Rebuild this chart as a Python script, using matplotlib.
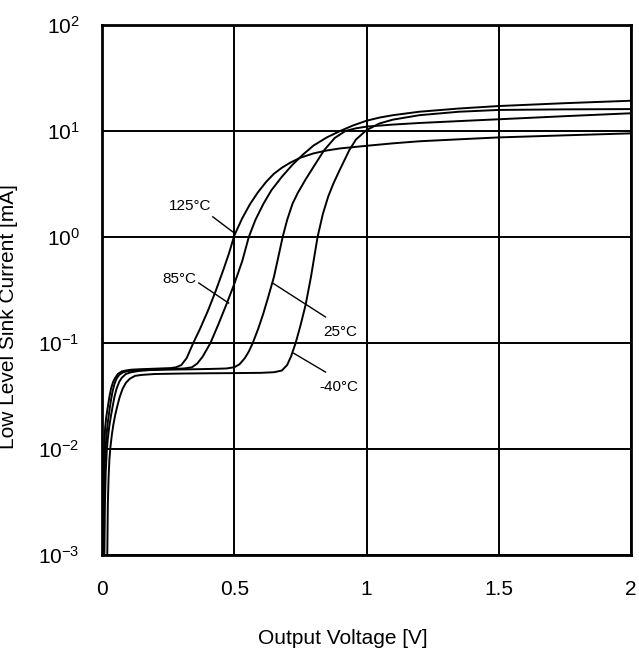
import numpy as np
import matplotlib
matplotlib.use('Agg')
import matplotlib.pyplot as plt
from matplotlib.ticker import FixedLocator, FuncFormatter, NullLocator

plt.rcParams['font.family'] = ['Liberation Sans', 'DejaVu Sans']
plt.rcParams['mathtext.fontset'] = 'custom'
plt.rcParams['mathtext.rm'] = 'Liberation Sans'

# output voltage [V] / sink current [mA]
v_125 = [0.003, 0.005, 0.007, 0.009, 0.012, 0.016, 0.022, 0.028, 0.034, 0.042, 0.05, 0.06, 0.075, 0.09,
         0.11, 0.14, 0.18, 0.22, 0.26, 0.28, 0.30, 0.32, 0.345, 0.37, 0.40, 0.43, 0.46, 0.48, 0.50, 0.53,
         0.56, 0.59, 0.62, 0.65, 0.68, 0.71, 0.75, 0.80, 0.85, 0.90, 1.0, 1.1, 1.2, 1.35, 1.5, 1.75, 2.0]
i_125 = [0.001, 0.0035, 0.007, 0.0115, 0.016, 0.020, 0.025, 0.031, 0.037, 0.043, 0.047, 0.051, 0.054, 0.055,
         0.056, 0.0565, 0.057, 0.0575, 0.058, 0.059, 0.062, 0.072, 0.10, 0.135, 0.20, 0.31, 0.50, 0.70, 1.03, 1.5,
         2.05, 2.65, 3.3, 3.95, 4.5, 5.0, 5.6, 6.15, 6.55, 6.85, 7.25, 7.65, 8.0, 8.35, 8.7, 9.1, 9.5]

v_85 = [0.006, 0.008, 0.010, 0.013, 0.017, 0.022, 0.028, 0.034, 0.040, 0.047, 0.055, 0.065, 0.08, 0.10,
        0.13, 0.17, 0.22, 0.27, 0.31, 0.34, 0.36, 0.38, 0.41, 0.44, 0.47, 0.50, 0.53, 0.555, 0.58, 0.61,
        0.64, 0.68, 0.72, 0.76, 0.80, 0.85, 0.90, 0.95, 1.0, 1.05, 1.1, 1.2, 1.35, 1.5, 1.75, 2.0]
i_85 = [0.001, 0.003, 0.006, 0.0095, 0.0135, 0.018, 0.023, 0.029, 0.035, 0.041, 0.046, 0.050, 0.053, 0.0545,
        0.0555, 0.056, 0.0565, 0.057, 0.0575, 0.059, 0.064, 0.074, 0.10, 0.15, 0.23, 0.36, 0.59, 1.0, 1.45, 2.05,
        2.75, 3.7, 4.8, 6.0, 7.3, 8.7, 10.0, 11.3, 12.5, 13.4, 14.1, 15.2, 16.3, 17.2, 18.3, 19.3]

v_25 = [0.009, 0.011, 0.014, 0.018, 0.022, 0.027, 0.033, 0.040, 0.047, 0.055, 0.065, 0.075, 0.09, 0.11,
        0.14, 0.18, 0.24, 0.30, 0.36, 0.42, 0.47, 0.50, 0.52, 0.54, 0.555, 0.57, 0.59, 0.61, 0.63, 0.65,
        0.665, 0.683, 0.70, 0.72, 0.74, 0.77, 0.80, 0.84, 0.88, 0.92, 0.96, 1.0, 1.1, 1.2, 1.35, 1.5, 1.75, 2.0]
i_25 = [0.001, 0.003, 0.006, 0.0095, 0.0125, 0.016, 0.020, 0.025, 0.031, 0.037, 0.043, 0.047, 0.051, 0.053,
        0.0545, 0.0555, 0.056, 0.0563, 0.0566, 0.057, 0.0575, 0.059, 0.063, 0.072, 0.083, 0.10, 0.135, 0.19, 0.28, 0.42,
        0.62, 1.0, 1.45, 2.05, 2.6, 3.5, 4.6, 6.6, 8.6, 10.0, 10.6, 11.0, 11.5, 11.9, 12.4, 12.9, 13.8, 14.7]

v_m40 = [0.020, 0.022, 0.025, 0.028, 0.032, 0.037, 0.043, 0.050, 0.058, 0.067, 0.078, 0.09, 0.105, 0.125,
         0.15, 0.2, 0.3, 0.4, 0.5, 0.6, 0.65, 0.68, 0.70, 0.715, 0.732, 0.75, 0.77, 0.79, 0.815, 0.835,
         0.855, 0.875, 0.895, 0.915, 0.935, 0.96, 1.0, 1.05, 1.1, 1.2, 1.35, 1.5, 1.75, 2.0]
i_m40 = [0.001, 0.003, 0.0055, 0.008, 0.0105, 0.0135, 0.017, 0.021, 0.0255, 0.031, 0.037, 0.042, 0.046, 0.049,
         0.050, 0.051, 0.0515, 0.0518, 0.052, 0.0523, 0.053, 0.055, 0.062, 0.075, 0.10, 0.145, 0.23, 0.42, 1.0, 1.65,
         2.4, 3.2, 4.1, 5.2, 6.6, 8.3, 10.2, 11.8, 12.8, 14.1, 15.2, 15.8, 16.0, 16.1]

curves = [(v_125, i_125), (v_85, i_85), (v_25, i_25), (v_m40, i_m40)]

# temperature labels: text position, leader line start and end (V, mA)
labels = ['125°C', '85°C', '25°C', '-40°C']
label_xy = [(0.332, 1.96), (0.291, 0.40), (0.902, 0.127), (0.894, 0.0385)]
leader_from = [(0.419, 1.55), (0.366, 0.368), (0.845, 0.176), (0.845, 0.0532)]
leader_to = [(0.498, 1.1), (0.479, 0.238), (0.645, 0.368), (0.725, 0.080)]

x_ticks = [0, 0.5, 1, 1.5, 2]
x_ticklabels = ['0', '0.5', '1', '1.5', '2']
y_exps = [-3, -2, -1, 0, 1, 2]

fig = plt.figure(figsize=(6.39, 6.5), dpi=100)
ax = fig.add_axes([102/639, 1-555/650, 529/639, 530/650])

for v, i in curves:
    ax.plot(v, i, color='black', lw=1.4, solid_joinstyle='round')

for lab, xy, a, b in zip(labels, label_xy, leader_from, leader_to):
    ax.text(xy[0], xy[1], lab, fontsize=11, ha='center', va='center')
    ax.plot([a[0], b[0]], [a[1], b[1]], color='black', lw=1.0)

ax.set_yscale('log')
ax.set_xlim(0, 2)
ax.set_ylim(1e-3, 1e2)
ax.xaxis.set_major_locator(FixedLocator(x_ticks))
ax.set_xticklabels(x_ticklabels)
ax.yaxis.set_major_locator(FixedLocator([10.0**e for e in y_exps]))
ax.yaxis.set_minor_locator(NullLocator())
ax.yaxis.set_major_formatter(FuncFormatter(lambda y, p: r'$\mathregular{10^{%d}}$' % int(round(np.log10(y)))))
ax.tick_params(axis='both', length=0, labelsize=15)
ax.tick_params(axis='x', pad=18)
ax.tick_params(axis='y', pad=16)
ax.grid(True, color='black', lw=1.4)
for s in ax.spines.values():
    s.set_linewidth(2)

ax.set_xlabel('Output Voltage [V]', fontsize=15)
ax.set_ylabel('Low Level Sink Current [mA]', fontsize=15)
ax.xaxis.set_label_coords(0.455, -0.14)
ax.yaxis.set_label_coords(-0.158, 0.45)

fig.savefig('out.png', dpi=100)
